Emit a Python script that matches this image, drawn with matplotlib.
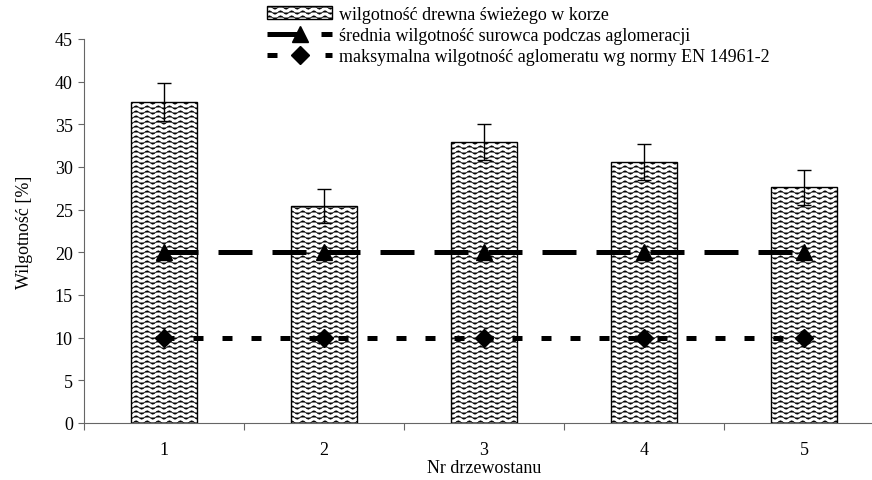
import warnings
import numpy as np
import matplotlib
matplotlib.use('Agg')
import matplotlib.pyplot as plt
import matplotlib.hatch as mhatch
from matplotlib.path import Path
from matplotlib.lines import Line2D
from matplotlib.patches import Patch

warnings.filterwarnings('ignore')

# data
stands = ['1', '2', '3', '4', '5']
fresh = [37.6, 25.4, 32.9, 30.6, 27.6]
fresh_err = [2.2, 2.0, 2.1, 2.1, 2.1]
mean_aggl = [20, 20, 20, 20, 20]
max_norm = [10, 10, 10, 10, 10]

labels = ['wilgotność drewna świeżego w korze',
          'średnia wilgotność surowca podczas aglomeracji',
          'maksymalna wilgotność aglomeratu wg normy EN 14961-2']


# wavy hatch ('~'), not built into matplotlib
class WaveHatch(mhatch.HatchPatternBase):
    pts = 73

    def __init__(self, hatch, density):
        self.num_rows = int(hatch.count('~') * density * 10 / 9)
        self.num_vertices = self.num_rows * self.pts

    def set_vertices_and_codes(self, vertices, codes):
        xs = np.linspace(0, 1, self.pts)
        ys = 0.017 * np.sin(2 * np.pi * 9 * xs)
        rows = (np.arange(self.num_rows) + 0.5) / max(self.num_rows, 1)
        for i, r in enumerate(rows):
            s = slice(i * self.pts, (i + 1) * self.pts)
            vertices[s, 0] = xs
            vertices[s, 1] = r + ys
            codes[s] = Path.LINETO
            codes[i * self.pts] = Path.MOVETO


mhatch._hatch_types.append(WaveHatch)

plt.rcParams['font.family'] = ['Liberation Serif', 'DejaVu Serif']
plt.rcParams['font.size'] = 13
plt.rcParams['hatch.linewidth'] = 0.5
plt.rcParams['hatch.color'] = '0.5'

fig = plt.figure(figsize=(8.72, 4.81), dpi=100)
ax = fig.add_axes([84 / 872, 57 / 481, 800 / 872, 384 / 481])

x = np.arange(1, len(stands) + 1)
ax.bar(x, fresh, width=0.41, color='white', edgecolor='black', linewidth=1,
       hatch='~~~', zorder=2)
ax.errorbar(x, fresh, yerr=fresh_err, fmt='none', ecolor='black',
            elinewidth=1, capsize=5, capthick=1, zorder=3)
ax.plot(x, mean_aggl, color='black', lw=3.6, dashes=(6.8, 4.0),
        marker='^', ms=12, zorder=4)
ax.plot(x, max_norm, color='black', lw=3.6, dashes=(2.0, 3.8),
        marker='D', ms=9, zorder=4)

ax.set_xlim(0.5, 5.5)
ax.set_ylim(0, 45)
ax.set_yticks(np.arange(0, 46, 5))
ax.set_xticks(np.arange(0.5, 6, 1))
ax.set_xticklabels([])
ax.set_xticks(x, minor=True)
ax.set_xticklabels(stands, minor=True)
ax.tick_params(axis='x', which='minor', length=0, pad=13)
ax.tick_params(axis='x', which='major', length=5, color='0.4')
ax.tick_params(axis='y', length=4, color='0.4', pad=4)
for s in ['top', 'right']:
    ax.spines[s].set_visible(False)
for s in ['left', 'bottom']:
    ax.spines[s].set_color('0.4')

ax.set_ylabel('Wilgotność [%]', labelpad=16)
ax.set_xlabel('Nr drzewostanu', labelpad=1)

handles = [
    Patch(facecolor='white', edgecolor='black', hatch='~~~', linewidth=1),
    Line2D([], [], color='black', lw=3.6, dashes=(6.8, 4.0), marker='^', ms=12),
    Line2D([], [], color='black', lw=3.6, dashes=(2.0, 3.8), marker='D', ms=9),
]
leg = ax.legend(handles, labels, loc='upper left', bbox_to_anchor=(0.22, 1.105),
                frameon=False, handlelength=3.6, handletextpad=0.4,
                labelspacing=0.22, borderaxespad=0)
leg.set_zorder(5)

fig.savefig('out.png', dpi=100)
